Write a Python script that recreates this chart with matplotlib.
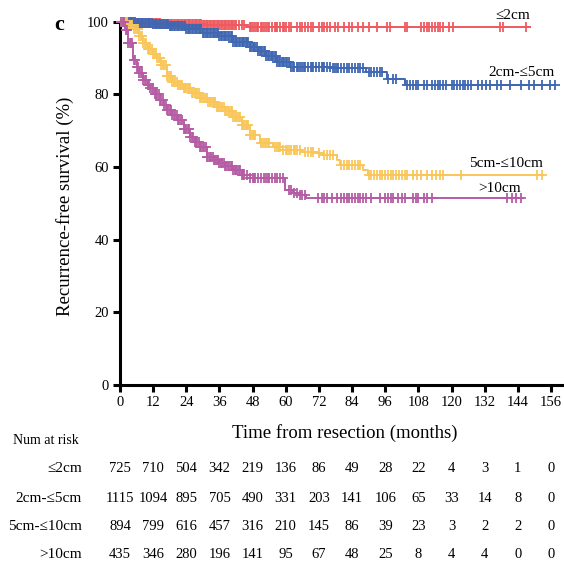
import numpy as np
import matplotlib
matplotlib.use("Agg")
import matplotlib.pyplot as plt
import matplotlib.transforms as mtransforms

plt.rcParams['font.family'] = ['Liberation Serif', 'DejaVu Serif']

# groups and colours
groups = ["≤2cm", "2cm-≤5cm", "5cm-≤10cm", ">10cm"]
colors = ["#EE5A5F", "#4067B2", "#F9C65A", "#B55CA5"]

# survival steps (month, %)
red_t = [0, 5, 15, 30, 46]
red_s = [100, 99.7, 99.4, 99.1, 98.6]
red_end = 148.3

blue_t = [0, 6, 12, 18, 24, 30, 36, 41, 47, 50, 53, 57, 61.5, 77, 89, 96.5, 103]
blue_s = [100, 99.7, 99.3, 98.8, 98.0, 97.0, 96.0, 94.5, 93.0, 92.0, 90.5, 89.0, 87.6, 87.2, 86.2, 84.3, 82.6]
blue_end = 157.4

yellow_t = [0, 3, 5, 7, 8.5, 10, 12, 13.5, 15, 17, 19, 21, 23, 26, 29, 32, 35, 38, 41, 44, 47, 50.6,
            55.5, 59, 66, 71, 73, 78.5, 79.6, 88, 89.7]
yellow_s = [100, 99, 98, 96, 94, 92.5, 91, 90, 88, 85, 83.5, 82.5, 81.8, 80.5, 79, 77.8, 76.6, 75.5, 73.8,
            71.5, 68.8, 66.6, 65.6, 64.7, 64.2, 63.8, 63.3, 61.9, 60.5, 59.2, 57.8]
yellow_end = 153

purple_t = [0, 1.8, 3, 4.8, 6, 7, 8.4, 10, 11, 12.5, 14.5, 16, 17, 19, 20.6, 23, 25.3, 27, 29, 31.5, 34, 36,
            38, 41, 44, 47, 59.7, 62.6, 65, 67.5]
purple_s = [100, 97.7, 94, 89.5, 87.6, 86, 84, 82.5, 81.7, 80, 78.4, 77, 75.7, 74.2, 72.9, 70.5, 68.3, 67,
            65.5, 62.8, 61.8, 61.1, 60.2, 59.2, 57.8, 57.0, 53.7, 52.8, 52.3, 51.5]
purple_end = 146

# censoring times (months)
red_c = [0.5, 1, 1.5, 2, 2.5, 3, 3.5, 4, 4.5, 5, 5.5, 6, 6.5, 7, 7.5, 8, 8.5, 9, 9.5, 10, 10.5, 11, 11.5,
         12, 12.5, 13, 13.5, 14, 14.5, 15, 15.5, 16, 16.5, 17, 17.5, 18, 18.5, 19, 19.5, 20, 20.5, 21,
         21.5, 22, 22.5, 23, 23.5, 24, 24.5, 25, 25.5, 26, 26.5, 27, 27.5, 28, 28.5, 29, 29.5, 30, 30.5,
         31, 31.5, 32, 32.5, 33, 33.5, 34, 34.5, 35, 35.5, 36, 36.5, 37, 37.5, 38, 38.5, 39, 39.5, 40,
         40.5, 41, 41.5, 42, 43, 44, 45, 47, 47.5, 48, 49, 49.5, 50, 51, 51.5, 52, 53, 53.5, 54, 55, 56,
         56.5, 57, 58, 59, 59.5, 60, 61, 62, 64, 65, 66, 67, 68, 69, 70, 72, 73, 74, 75, 76, 78, 79, 81,
         83, 84, 86, 88, 90, 93, 96.6, 97.7, 103, 104, 109, 110, 111, 112, 113, 114, 115, 116, 117, 119,
         120.5, 137.5, 138.5, 147]
blue_c = [0.5, 1, 1.5, 2, 2.5, 3, 3.5, 4, 4.5, 5, 5.5, 6, 6.5, 7, 7.5, 8, 8.5, 9, 9.5, 10, 10.5, 11, 11.5,
          12, 12.5, 13, 13.5, 14, 14.5, 15, 15.5, 16, 16.5, 17, 17.5, 18, 18.5, 19, 19.5, 20, 20.5, 21,
          21.5, 22, 22.5, 23, 23.5, 24, 24.5, 25, 25.5, 26, 26.5, 27, 27.5, 28, 28.5, 29, 29.5, 30, 30.5,
          31, 31.5, 32, 32.5, 33, 33.5, 34, 34.5, 35, 35.5, 36, 36.5, 37, 37.5, 38, 38.5, 39, 39.5, 40,
          40.5, 41, 41.5, 42, 42.5, 43, 43.5, 44, 44.5, 45, 45.5, 46, 46.5, 47, 47.5, 48, 48.5, 49, 49.5,
          50, 50.5, 51, 51.5, 52, 52.5, 53, 53.5, 54, 54.5, 55, 55.5, 56, 56.5, 57, 57.5, 58, 58.5, 59,
          59.5, 60, 60.5, 61, 62, 62.5, 63, 64, 64.5, 65, 66, 66.5, 67, 68, 69, 69.5, 70, 71, 72, 73,
          73.5, 74, 75, 76, 77, 78, 78.5, 79, 80, 81, 82, 83, 84, 85, 86, 87, 88, 90, 91, 92, 93, 94, 95,
          97, 99, 100, 104, 105, 106, 107, 108, 110, 111, 113, 114, 115, 116, 117, 118, 120, 121, 122,
          123, 124, 125, 126, 127, 129.5, 131, 132.5, 134, 136.4, 138, 141, 145, 148, 150, 152.6, 155.6,
          157.4]
yellow_c = [0.5, 1, 1.5, 2, 2.5, 3, 3.5, 4, 4.5, 5, 5.5, 6, 6.5, 7, 7.5, 8, 8.5, 9, 9.5, 10, 10.5, 11,
            11.5, 12, 12.5, 13, 13.5, 14, 14.5, 15, 15.5, 16, 16.5, 17, 17.5, 18, 18.5, 19, 19.5, 20,
            20.5, 21, 21.5, 22, 22.5, 23, 23.5, 24, 24.5, 25, 25.5, 26, 26.5, 27, 27.5, 28, 28.5, 29,
            29.5, 30, 30.5, 31, 31.5, 32, 32.5, 33, 33.5, 34, 34.5, 35, 35.5, 36, 36.5, 37, 37.5, 38,
            38.5, 39, 39.5, 40, 40.5, 41, 41.5, 42, 42.5, 43, 43.5, 44, 44.5, 45, 45.5, 46, 46.5, 47,
            47.5, 48, 48.5, 49, 51, 51.5, 52, 53, 53.5, 54, 56, 57, 57.5, 58, 59, 60, 60.5, 61, 62, 63,
            63.5, 64, 65, 67, 68, 69, 70, 72, 74, 75, 76, 77, 80, 81, 82, 83, 84, 85, 86, 87, 90, 91, 92,
            93, 94, 95, 96, 97, 98, 99, 100, 101, 102, 103, 104, 106, 107.5, 109, 111, 113, 114.5, 116,
            117, 123.6, 151, 152.6]
purple_c = [0.5, 1, 1.5, 2, 2.5, 3, 3.5, 4, 4.5, 5, 5.5, 6, 6.5, 7, 7.5, 8, 8.5, 9, 9.5, 10, 10.5, 11,
            11.5, 12, 12.5, 13, 13.5, 14, 14.5, 15, 15.5, 16, 16.5, 17, 17.5, 18, 18.5, 19, 19.5, 20,
            20.5, 21, 21.5, 22, 22.5, 23, 23.5, 24, 24.5, 25, 25.5, 26, 26.5, 27, 27.5, 28, 28.5, 29,
            29.5, 30, 30.5, 31, 31.5, 32, 32.5, 33, 33.5, 34, 34.5, 35, 35.5, 36, 36.5, 37, 37.5, 38,
            38.5, 39, 39.5, 40, 40.5, 41, 41.5, 42, 42.5, 43, 43.5, 44, 44.5, 45, 46, 47, 48, 48.5, 49,
            50, 51, 52, 53, 53.5, 54, 55, 56, 57, 58, 59, 61, 62, 63, 64, 65, 66, 67, 71.6, 73, 74, 75,
            76.7, 78.5, 80, 81, 82, 83, 84, 85, 86, 87, 88, 89, 91, 94, 96, 97, 98, 99, 100.6, 102, 103,
            106, 107, 108, 110, 111, 113, 140, 142, 143.5, 145]

# number at risk table
risk_times = [0, 12, 24, 36, 48, 60, 72, 84, 96, 108, 120, 132, 144, 156]
risk_red = [725, 710, 504, 342, 219, 136, 86, 49, 28, 22, 4, 3, 1, 0]
risk_blue = [1115, 1094, 895, 705, 490, 331, 203, 141, 106, 65, 33, 14, 8, 0]
risk_yellow = [894, 799, 616, 457, 316, 210, 145, 86, 39, 23, 3, 2, 2, 0]
risk_purple = [435, 346, 280, 196, 141, 95, 67, 48, 25, 8, 4, 4, 0, 0]

W, H = 564, 566
fig = plt.figure(figsize=(W / 100, H / 100), dpi=100)
ax = fig.add_axes([120 / W, 1 - 385 / H, 442 / W, (385 - 21.7) / H])

curves = [(red_t, red_s, red_end, red_c), (blue_t, blue_s, blue_end, blue_c),
          (yellow_t, yellow_s, yellow_end, yellow_c), (purple_t, purple_s, purple_end, purple_c)]
for (t, s, end, c), col in zip(curves, colors):
    t = np.array(t + [end])
    s = np.array(s + [s[-1]])
    ax.step(t, s, where='post', color=col, lw=1.4, clip_on=False, zorder=3)
    c = np.array(c)
    idx = np.searchsorted(t, c, side='right') - 1
    ax.plot(c, s[idx], ls='none', marker='+', ms=6.5, mew=1.3, color=col, clip_on=False, zorder=3)

ax.set_xlim(0, 160)
ax.set_ylim(0, 100)
ax.set_xticks(risk_times)
ax.set_yticks([0, 20, 40, 60, 80, 100])
ax.spines['top'].set_visible(False)
ax.spines['right'].set_visible(False)
for sp in ['left', 'bottom']:
    ax.spines[sp].set_linewidth(2.2)
ax.tick_params(width=2.2, length=5, labelsize=10.5, pad=3)

# curve labels
ax.text(142, 101.8, groups[0], ha='center', va='center', fontsize=11, clip_on=False)
ax.text(145.5, 86, groups[1], ha='center', va='center', fontsize=11, clip_on=False)
ax.text(139.7, 61.1, groups[2], ha='center', va='center', fontsize=11, clip_on=False)
ax.text(137.4, 54.2, groups[3], ha='center', va='center', fontsize=11, clip_on=False)

fig.text(59 / W, 1 - 25 / H, "c", fontsize=16, fontweight='bold', ha='center', va='center')
fig.text(65 / W, 1 - 206 / H, "Recurrence-free survival (%)", rotation=90, fontsize=13.5,
         ha='center', va='center')
fig.text(345 / W, 1 - 433 / H, "Time from resection (months)", fontsize=13.5, ha='center', va='center')
fig.text(13 / W, 1 - 441 / H, "Num at risk", fontsize=10, ha='left', va='center')

# number at risk rows
trans = mtransforms.blended_transform_factory(ax.transData, fig.transFigure)
row_y = [469, 498, 526, 554]
for g, counts, yp in zip(groups, [risk_red, risk_blue, risk_yellow, risk_purple], row_y):
    fig.text(82 / W, 1 - yp / H, g, fontsize=11, ha='right', va='center')
    for tm, n in zip(risk_times, counts):
        ax.text(tm, 1 - yp / H, str(n), transform=trans, fontsize=10.5, ha='center', va='center',
                clip_on=False)

fig.savefig("out.png", dpi=100)
